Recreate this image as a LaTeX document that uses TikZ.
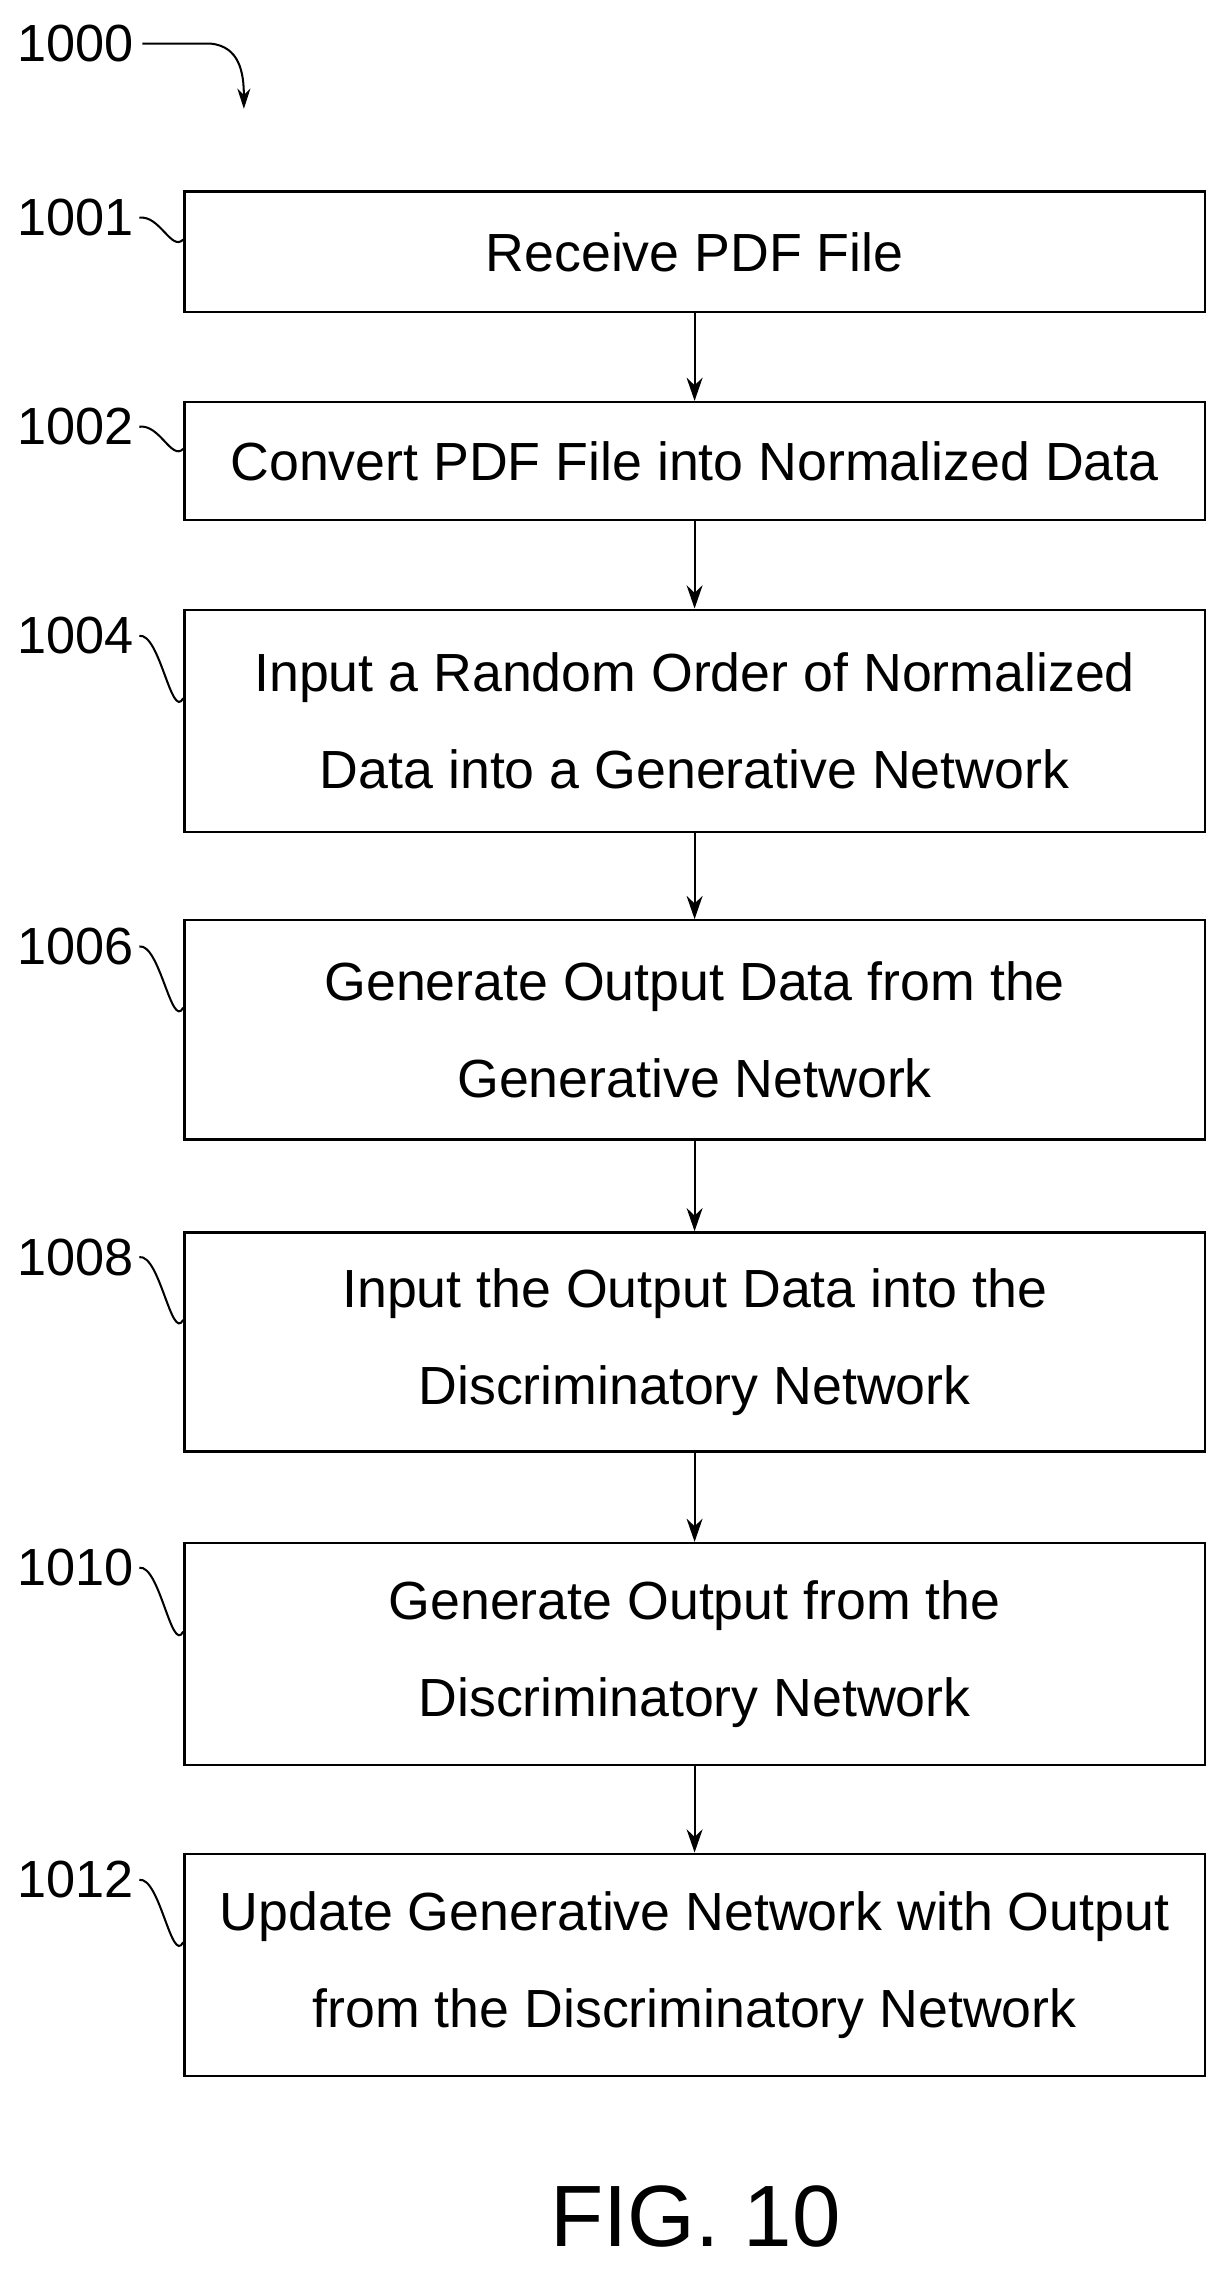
\documentclass[tikz,border=0pt]{standalone}
\usepackage{fontspec}
\setmainfont{Liberation Sans}
\usetikzlibrary{arrows.meta,calc}
\begin{document}
\begin{tikzpicture}[x=1pt,y=-1pt,
  box/.style={draw,line width=1.6pt,minimum width=703pt,align=center,font=\fontsize{37}{67}\selectfont,inner sep=0pt},
  lab/.style={font=\fontsize{36}{40}\selectfont,anchor=east,inner sep=0pt},
  arr/.style={line width=1.4pt,-{Stealth[length=16pt,width=11pt]}},
  lead/.style={line width=1.4pt}]
\useasboundingbox (0,0) rectangle (848,1570);
\node[box,minimum height=83pt] (b1) at (478.5,173.5) {Receive PDF File};
\node[box,minimum height=81pt] (b2) at (478.5,317.5) {Convert PDF File into Normalized Data};
\node[box,minimum height=153pt] (b3) at (478.5,496.5) {Input a Random Order of Normalized\\Data into a Generative Network};
\node[box,minimum height=151pt] (b4) at (478.5,709.5) {Generate Output Data from the\\Generative Network};
\node[box,minimum height=151pt] (b5) at (478.5,924.5) {Input the Output Data into the\\Discriminatory Network};
\node[box,minimum height=153pt] (b6) at (478.5,1139.5) {Generate Output from the\\Discriminatory Network};
\node[box,minimum height=153pt] (b7) at (478.5,1353.5) {Update Generative Network with Output\\from the Discriminatory Network};
\foreach \a/\b in {b1/b2,b2/b3,b3/b4,b4/b5,b5/b6,b6/b7} \draw[arr] (\a) -- (\b);
\node[lab] (l0) at (92,30) {1000};
\node[lab] (l1) at (92,150) {1001};
\node[lab] (l2) at (92,294) {1002};
\node[lab] (l4) at (92,438) {1004};
\node[lab] (l6) at (92,652) {1006};
\node[lab] (l8) at (92,866) {1008};
\node[lab] (l10) at (92,1080) {1010};
\node[lab] (l12) at (92,1295) {1012};
\draw[lead,-{Stealth[length=14pt,width=9pt]}] ($(l0.east)+(6,0)$) -- (145,30) .. controls (165,32) and (168,50) .. (168,75);
\foreach \l/\b in {l1/b1,l2/b2,l4/b3,l6/b4,l8/b5,l10/b6,l12/b7}
  \draw[lead] ($(\l.east)+(4,0)$) .. controls ($(\l.east)+(18,-2)$) and ($(\b.west)+(-8,0)$) .. ($(\b.north west)!0.4!(\b.south west)$);
\node[font=\fontsize{60}{60}\selectfont,inner sep=0pt] (fig) at (479,1527) {FIG. 10};
\end{tikzpicture}
\end{document}
